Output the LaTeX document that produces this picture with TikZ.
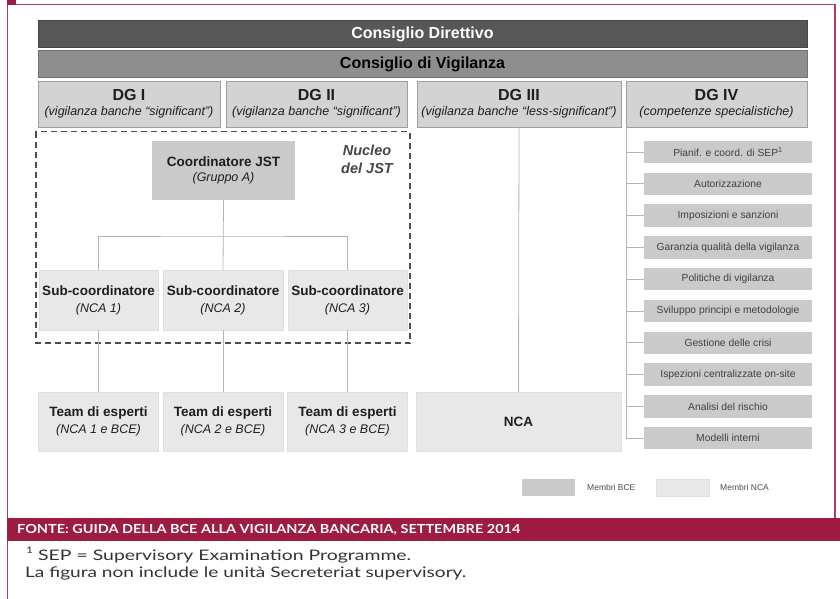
\documentclass[tikz,border=0pt]{standalone}
\usepackage{fontspec}
\setmainfont{Liberation Sans}
\newfontfamily\footfont{Lato}
\usetikzlibrary{calc}
\definecolor{bcered}{HTML}{9E1B42}
\definecolor{framered}{HTML}{B23A5E}
\definecolor{darkbar}{HTML}{575757}
\definecolor{midbar}{HTML}{8E8E8E}
\definecolor{dgfill}{HTML}{D3D3D3}
\definecolor{bcegray}{HTML}{CACACA}
\definecolor{ncagray}{HTML}{E8E8E8}
\definecolor{connc}{HTML}{B4B4B4}
\definecolor{txt}{HTML}{1E1E1E}
\newcommand\mytitle[1]{{\bfseries\fontsize{16}{19}\selectfont #1}}
\newcommand\mysubt[1]{{\itshape\fontsize{12.5}{15}\selectfont #1}}
\newcommand\boxtitle[1]{{\bfseries\fontsize{13.5}{16}\selectfont #1}}
\begin{document}
\begin{tikzpicture}[x=1pt,y=-1pt,
  bar/.style={draw=#1!80!black, line width=0.6pt, fill=#1, minimum width=769pt, minimum height=27.5pt, inner sep=0pt},
  dgbox/.style={draw=gray!75, line width=0.8pt, fill=dgfill, minimum height=46pt, inner sep=0pt, align=center, text=txt},
  bcebox/.style={fill=bcegray, inner sep=0pt, align=center, text=txt},
  ncabox/.style={draw=gray!25, line width=0.4pt, fill=ncagray, inner sep=0pt, align=center, text=txt},
  itembox/.style={fill=bcegray, minimum width=168pt, minimum height=22.5pt, inner sep=0pt, text=txt!85, font=\fontsize{10.3}{12}\selectfont},
  conn/.style={draw=connc, line width=0.8pt},
  dashbox/.style={draw=black!70, line width=1.3pt, dash pattern=on 6pt off 4pt},
  legtext/.style={anchor=west, text=black!70, font=\fontsize{8.5}{10}\selectfont, inner sep=0pt},
  foot/.style={anchor=west, inner sep=0pt, text=black!80, font=\footfont\fontsize{14.5}{17}\selectfont}
]
\useasboundingbox (0,0) rectangle (840,599);
\fill[white] (0,0) rectangle (840,599);

% frame and source band
\draw[framered, line width=1.5pt] (7.5,599) -- (7.5,4.5) -- (835,4.5) -- (835,518);
\fill[bcered] (7,0) rectangle (16,5);
\fill[bcered] (7,518) rectangle (840,540.5);
\node[anchor=west, inner sep=0pt, text=white, font=\footfont\bfseries\fontsize{12.5}{14}\selectfont] (fonte) at (17,529.5)
  {\resizebox{503pt}{\height}{FONTE: GUIDA DELLA BCE ALLA VIGILANZA BANCARIA, SETTEMBRE 2014}};
\node[foot] (note1) at (26,555)
  {\resizebox{385pt}{\height}{\raisebox{0.45em}{\fontsize{9}{10}\selectfont 1} SEP = Supervisory Examination Programme.}};
\node[foot] (note2) at (25,573.5)
  {\resizebox{441pt}{\height}{La figura non include le unità Secreteriat supervisory.}};

% top bars
\node[bar=darkbar, text=white] (cd) at (422.5,34) {\mytitle{Consiglio Direttivo}};
\node[bar=midbar, text=black] (cv) at (422.5,64) {\mytitle{Consiglio di Vigilanza}};

% DG boxes
\node[dgbox, minimum width=182pt] (dg1) at (129,104) {\mytitle{DG I}\\[3pt]\mysubt{(vigilanza banche “significant”)}};
\node[dgbox, minimum width=181pt] (dg2) at (316.5,104) {\mytitle{DG II}\\[3pt]\mysubt{(vigilanza banche “significant”)}};
\node[dgbox, minimum width=204pt] (dg3) at (519,104) {\mytitle{DG III}\\[3pt]\mysubt{(vigilanza banche “less-significant”)}};
\node[dgbox, minimum width=181pt] (dg4) at (716.5,104) {\mytitle{DG IV}\\[3pt]\mysubt{(competenze specialistiche)}};

% JST core
\draw[dashbox] (36,131.5) rectangle (410,343);
\node[align=center, text=black!72, font=\bfseries\itshape\fontsize{14.5}{18}\selectfont, inner sep=0pt] (nucleo) at (367,159) {Nucleo\\del JST};
\node[bcebox, minimum width=143pt, minimum height=59pt] (coord) at (223.5,170.5)
  {\boxtitle{Coordinatore JST}\\[3.5pt]\mysubt{(Gruppo A)}};
\node[ncabox, minimum width=119pt, minimum height=60pt] (sub1) at (98.5,300) {\boxtitle{Sub-coordinatore}\\[5pt]\mysubt{(NCA 1)}};
\node[ncabox, minimum width=120pt, minimum height=60pt] (sub2) at (223,300) {\boxtitle{Sub-coordinatore}\\[5pt]\mysubt{(NCA 2)}};
\node[ncabox, minimum width=119pt, minimum height=60pt] (sub3) at (347.5,300) {\boxtitle{Sub-coordinatore}\\[5pt]\mysubt{(NCA 3)}};

% expert teams and NCA
\node[ncabox, minimum width=120pt, minimum height=59pt] (team1) at (98.5,421.5) {\boxtitle{Team di esperti}\\[5pt]\mysubt{(NCA 1 e BCE)}};
\node[ncabox, minimum width=120pt, minimum height=59pt] (team2) at (223,421.5) {\boxtitle{Team di esperti}\\[5pt]\mysubt{(NCA 2 e BCE)}};
\node[ncabox, minimum width=120pt, minimum height=59pt] (team3) at (347.5,421.5) {\boxtitle{Team di esperti}\\[5pt]\mysubt{(NCA 3 e BCE)}};
\node[ncabox, minimum width=205pt, minimum height=59pt] (nca) at (518.5,421.5) {\boxtitle{NCA}};

% DG IV units
\node[itembox] (it1) at (728,152) {Pianif. e coord. di SEP\textsuperscript{1}};
\node[itembox] (it2) at (728,183.8) {Autorizzazione};
\node[itembox] (it3) at (728,215.6) {Imposizioni e sanzioni};
\node[itembox] (it4) at (728,247.4) {Garanzia qualità della vigilanza};
\node[itembox] (it5) at (728,279.2) {Politiche di vigilanza};
\node[itembox] (it6) at (728,311) {Sviluppo principi e metodologie};
\node[itembox] (it7) at (728,342.8) {Gestione delle crisi};
\node[itembox] (it8) at (728,374.6) {Ispezioni centralizzate on-site};
\node[itembox] (it9) at (728,406.4) {Analisi del rischio};
\node[itembox] (it10) at (728,438.2) {Modelli interni};

% connectors
\coordinate (jbar) at (223,236);
\coordinate (spine) at (626.5,127);
\draw[conn] (coord.south) -- (sub2.north);
\draw[conn] (sub1.north) |- (jbar) -| (sub3.north);
\draw[conn] (sub1.south) -- (team1.north);
\draw[conn] (sub2.south) -- (team2.north);
\draw[conn] (sub3.south) -- (team3.north);
\draw[conn] (dg3.south) -- (nca.north);
\foreach \i in {1,...,10} { \draw[conn] (it\i.west) -| (spine); }

% legend
\node[bcebox, minimum width=53pt, minimum height=17pt] (legbce) at (548.5,487.5) {};
\node[legtext] (legbcet) at (587,487.5) {Membri BCE};
\node[ncabox, minimum width=53pt, minimum height=17pt] (legnca) at (682.5,487.5) {};
\node[legtext] (legncat) at (720,487.5) {Membri NCA};
\end{tikzpicture}
\end{document}
